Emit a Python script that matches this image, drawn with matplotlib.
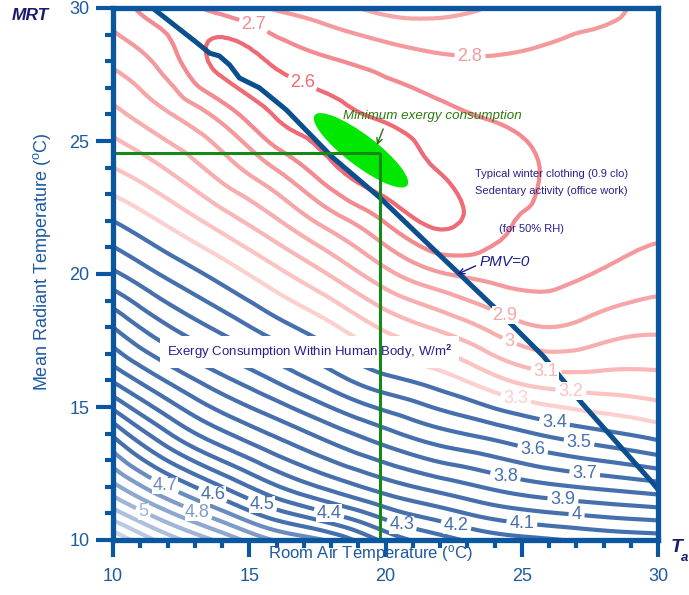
"""Exergy consumption within the human body vs room air / mean radiant temperature."""

import matplotlib.pyplot as plt
import matplotlib.tri as mtri
import numpy as np
from matplotlib.patches import Ellipse

plt.rcParams["font.family"] = ["Liberation Sans", "DejaVu Sans"]
plt.rcParams["mathtext.fontset"] = "custom"
plt.rcParams["mathtext.rm"] = "Liberation Sans"
plt.rcParams["mathtext.it"] = "Liberation Sans:italic"
plt.rcParams["mathtext.bf"] = "Liberation Sans:bold"

# grid (W/m2), rows = MRT, columns = room air temperature
room_air = [10, 12, 14, 16, 18, 20, 22, 24, 26, 28, 30]
radiant = [10, 12, 14, 16, 18, 20, 22, 24, 26, 28, 30]
exergy = [
    [5.38, 5.15, 4.97, 4.79, 4.68, 4.47, 4.34, 4.25, 4.21, 4.17, 4.15],
    [4.93, 4.70, 4.50, 4.31, 4.17, 4.05, 3.96, 3.88, 3.82, 3.78, 3.74],
    [4.58, 4.31, 4.12, 3.98, 3.85, 3.73, 3.63, 3.56, 3.48, 3.42, 3.36],
    [4.19, 3.99, 3.83, 3.69, 3.55, 3.43, 3.35, 3.23, 3.15, 3.14, 3.13],
    [3.90, 3.71, 3.57, 3.44, 3.32, 3.18, 3.08, 2.97, 2.90, 2.95, 2.98],
    [3.62, 3.48, 3.36, 3.23, 3.09, 2.93, 2.81, 2.77, 2.77, 2.81, 2.85],
    [3.40, 3.28, 3.15, 3.01, 2.85, 2.69, 2.58, 2.67, 2.72, 2.76, 2.78],
    [3.20, 3.09, 2.95, 2.79, 2.62, 2.54, 2.61, 2.66, 2.71, 2.75, 2.76],
    [3.03, 2.91, 2.76, 2.59, 2.57, 2.62, 2.68, 2.71, 2.73, 2.75, 2.76],
    [2.88, 2.75, 2.57, 2.62, 2.69, 2.74, 2.78, 2.79, 2.78, 2.77, 2.77],
    [2.75, 2.66, 2.74, 2.81, 2.86, 2.93, 2.93, 2.89, 2.84, 2.82, 2.76],
]

levels = [2.6, 2.7, 2.8, 2.9, 3.0, 3.1, 3.2, 3.3, 3.4, 3.5, 3.6, 3.7, 3.8, 3.9,
          4.0, 4.1, 4.2, 4.3, 4.4, 4.5, 4.6, 4.7, 4.8, 4.9, 5.0, 5.1, 5.2, 5.3]
level_colors = ["#ee6a74", "#f28a90", "#f49a9c", "#f6a6a7", "#f7aeae", "#f9b7b6",
                "#fbc3c1", "#fcd0ce"] + ["#4670ad"] * 13 + [
                "#6a8bbf", "#7f9bc8", "#8ea7cf", "#9fb4d7", "#adbfdd", "#bac9e3",
                "#c7d3e8"]

label_spots = [(17.0, 27.3), (15.1, 29.2), (23.1, 28.2), (24.3, 18.3),
               (24.6, 17.6), (25.9, 16.4), (26.8, 15.55), (24.8, 15.4),
               (26.2, 14.4), (27.1, 13.65), (25.4, 13.4), (27.3, 12.4),
               (24.4, 12.4), (26.5, 11.4), (27.0, 10.8), (25.0, 10.6),
               (22.6, 10.6), (20.6, 10.6), (17.9, 10.9), (15.5, 11.4),
               (13.7, 11.8), (11.9, 12.05), (13.1, 11.05), (11.1, 11.05)]

# PMV = 0 comfort line
pmv_ta = [11.45, 13.07, 13.55, 13.9, 14.28, 14.64, 15.37, 16.36, 18.04, 19.76,
          22.1, 24.04, 25.8, 27.2, 29.8, 30.0]
pmv_mrt = [30.0, 28.7, 28.3, 28.2, 27.86, 27.37, 27.0, 26.17, 24.4, 22.9,
           20.6, 18.7, 16.9, 15.15, 12.15, 11.9]

optimum_ta = 19.8
optimum_mrt = 24.55

frame = "#0b579f"
tick_text = "#1e5aa0"
navy = "#2a1f8f"

fig = plt.figure(figsize=(6.89, 5.95), dpi=100)
ax = fig.add_axes([113 / 689, 55 / 595, 545 / 689, 532 / 595])

X, Y = np.meshgrid(room_air, radiant)
tri = mtri.Triangulation(X.ravel(), Y.ravel())
refiner = mtri.UniformTriRefiner(tri)
tri_f, z_f = refiner.refine_field(np.asarray(exergy).ravel(), subdiv=3)
cs = ax.tricontour(tri_f, z_f, levels=levels, colors=level_colors,
                   linewidths=3.0, zorder=2)

ax.add_patch(Ellipse((19.1, 24.65), 4.3, 1.15, angle=-38, fc="#00e800",
                     ec="none", zorder=3))
ax.plot(pmv_ta, pmv_mrt, color="#0b4f8f", lw=3.6, zorder=4,
        solid_joinstyle="round")

ax.clabel(cs, manual=label_spots, inline=True, fmt="%g", fontsize=13,
          inline_spacing=3)
for t in cs.labelTexts:
    t.set_rotation(0)
    t.set_zorder(6)
    t.set_bbox(dict(fc="white", ec="none", pad=0.3))

ax.text(18.45, 25.95, "Minimum exergy consumption", fontsize=9.6,
        style="italic", color="#2d7a12", va="center", zorder=7)
ax.annotate("", xy=(19.65, 24.75), xytext=(19.95, 25.55),
            arrowprops=dict(arrowstyle="->", color="#2d6e12", lw=1.0), zorder=7)
ax.text(23.3, 23.76, "Typical winter clothing (0.9 clo)", fontsize=8,
        color=navy, va="center", zorder=7)
ax.text(23.3, 23.12, "Sedentary activity (office work)", fontsize=8,
        color=navy, va="center", zorder=7)
ax.text(24.15, 21.69, "(for 50% RH)", fontsize=8, color=navy, va="center",
        zorder=7)
ax.text(23.45, 20.45, "PMV=0", fontsize=11, style="italic", color="#1c1c8c",
        va="center", zorder=7)
ax.annotate("", xy=(22.55, 19.95), xytext=(23.4, 20.35),
            arrowprops=dict(arrowstyle="->", color="#1c1c8c", lw=1.0), zorder=7)
ax.text(11.97, 17.07, "Exergy Consumption Within Human Body, W/m$^{\\mathbf{2}}$",
        fontsize=9.5, color=navy, va="center", zorder=7,
        bbox=dict(fc="white", ec="none", pad=5))

# optimum operating point, drawn over the caption box
ax.plot([10, optimum_ta], [optimum_mrt, optimum_mrt], color="#168a16", lw=2.2,
        zorder=7.5, solid_capstyle="butt")
ax.plot([optimum_ta, optimum_ta], [10, optimum_mrt], color="#168a16", lw=2.2,
        zorder=7.5, solid_capstyle="butt")

ax.set_xlim(10, 30)
ax.set_ylim(10, 30)
ax.set_xticks([10, 15, 20, 25, 30])
ax.set_yticks([10, 15, 20, 25, 30])
ax.set_xticks(np.arange(10, 31, 1), minor=True)
ax.set_yticks(np.arange(10, 31, 1), minor=True)
ax.tick_params(which="both", direction="out", color=frame, width=3,
               top=False, right=False)
ax.tick_params(which="major", length=12, labelsize=13, labelcolor=tick_text)
ax.tick_params(which="minor", length=6)
ax.tick_params(axis="x", which="major", pad=8)
ax.tick_params(axis="y", which="major", pad=5)
for sp in ax.spines.values():
    sp.set_color(frame)
    sp.set_linewidth(3.8)
    sp.set_zorder(8)

fig.text(370 / 689, 1 - 553 / 595, "Room Air Temperature ($^{\\rm o}$C)",
         fontsize=12, color=tick_text, ha="center", va="center")
fig.text(42 / 689, 1 - 262 / 595, "Mean Radiant Temperature ($^{\\rm o}$C)",
         fontsize=13, color=tick_text, ha="center", va="center", rotation=90)
fig.text(12 / 689, 1 - 16 / 595, "MRT", fontsize=12.5, fontweight="bold",
         style="italic", color="#1a1a70", va="center")
fig.text(671 / 689, 1 - 548 / 595, "T", fontsize=14, fontweight="bold",
         style="italic", color="#1a1a70", va="center")
fig.text(681 / 689, 1 - 558 / 595, "a", fontsize=9.5, fontweight="bold",
         style="italic", color="#1a1a70", va="center")

fig.savefig("out.png", dpi=100)
